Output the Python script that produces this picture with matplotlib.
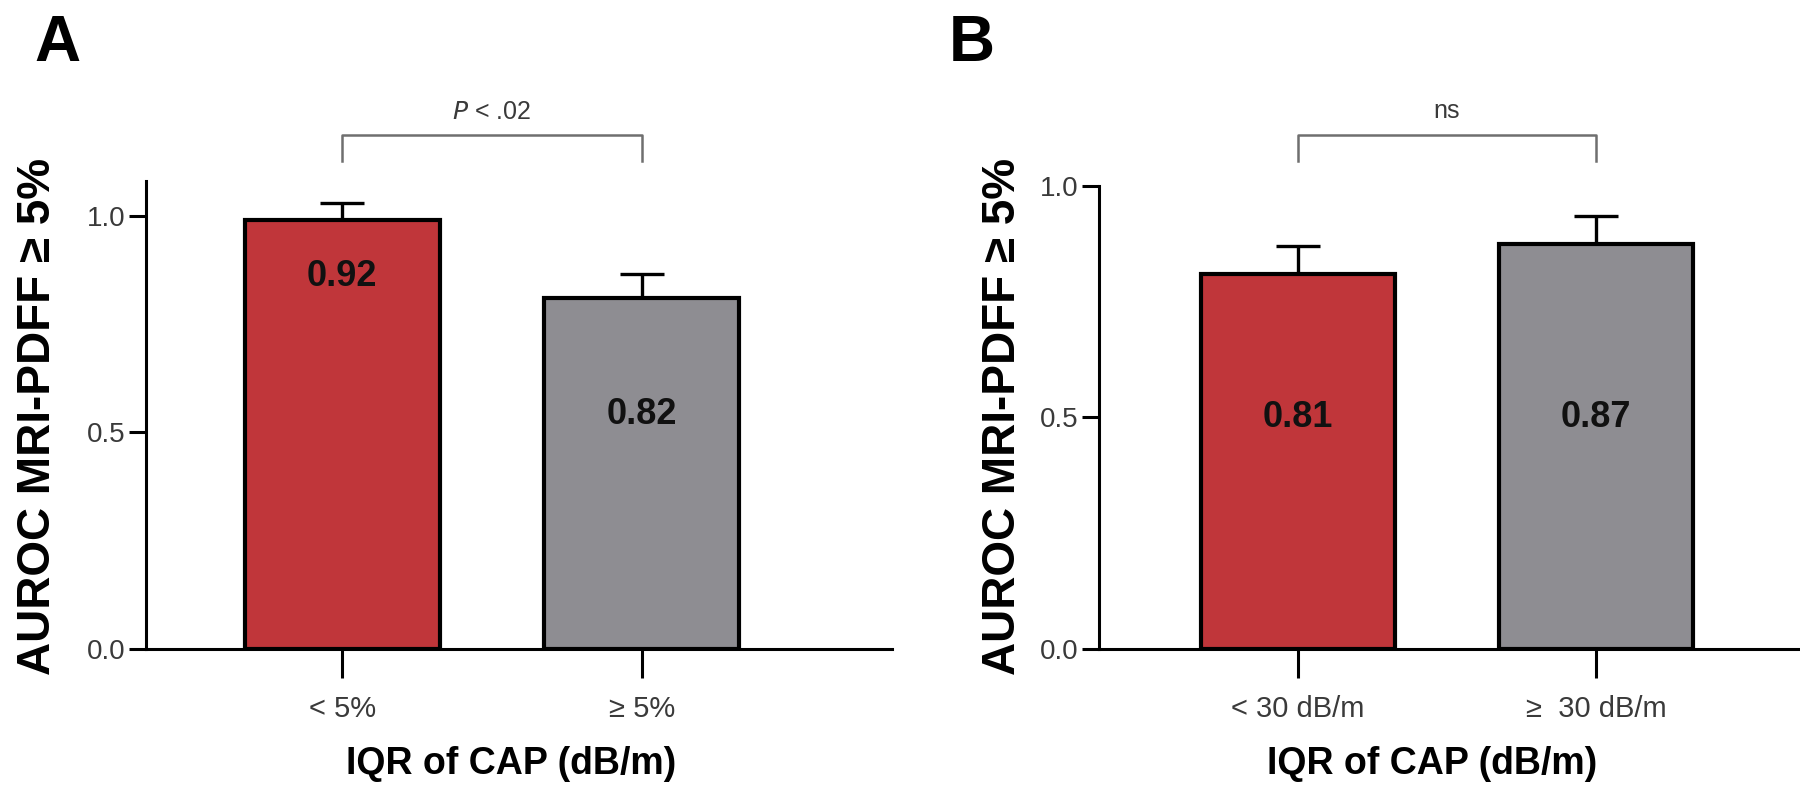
import matplotlib
matplotlib.use("Agg")
import matplotlib.pyplot as plt

plt.rcParams["font.family"] = ["Liberation Sans", "DejaVu Sans"]

# ---- data ----
cats_a = ["< 5%", "≥ 5%"]
bars_a = [0.99, 0.81]
err_a = [0.04, 0.055]
labels_a = ["0.92", "0.82"]
p_text_a = "P < .02"

cats_b = ["< 30 dB/m", "≥  30 dB/m"]
bars_b = [0.81, 0.875]
err_b = [0.06, 0.06]
labels_b = ["0.81", "0.87"]
p_text_b = "ns"

RED = "#C0363A"
GREY = "#8E8D92"
TXT = "#3a3a3a"

fig = plt.figure(figsize=(18, 7.88), dpi=100)
ax_a = fig.add_axes([0.0811, 0.1764, 0.4144, 0.660])
ax_b = fig.add_axes([0.6106, 0.1764, 0.3890, 0.7056])


def draw_panel(ax, cats, vals, errs, labels, label_y, ylim_top, spine_top,
               xlim, brk_y, brk_drop, p_text, p_y, ylab_xy, xlab_xy):
    x = list(range(len(vals)))
    ax.bar(x, vals, width=0.65, color=[RED, GREY], edgecolor="black",
           linewidth=3, zorder=2)
    ax.errorbar(x, vals, yerr=[[0] * len(errs), errs], fmt="none",
                ecolor="black", elinewidth=2.4, capsize=16, capthick=2.4,
                zorder=1)
    for xi, lab, ly in zip(x, labels, label_y):
        ax.text(xi, ly, lab, ha="center", va="center", fontsize=26,
                fontweight="bold", color="#111111", zorder=3)

    ax.set_xlim(*xlim)
    ax.set_ylim(0, ylim_top)
    ax.set_yticks([0, 0.5, 1.0])
    ax.set_yticklabels(["0.0", "0.5", "1.0"])
    ax.set_xticks(x)
    ax.set_xticklabels(cats)
    ax.tick_params(axis="y", length=12, width=2.2, labelsize=20,
                   labelcolor=TXT, pad=3)
    ax.tick_params(axis="x", length=21, width=2.2, labelsize=21,
                   labelcolor=TXT, pad=12)
    for s in ["top", "right"]:
        ax.spines[s].set_visible(False)
    for s in ["left", "bottom"]:
        ax.spines[s].set_linewidth(2.2)
    ax.spines["left"].set_bounds(0, spine_top)

    # significance bracket
    ax.plot([0, 0, 1, 1], [brk_drop, brk_y, brk_y, brk_drop], color="#6f6f6f",
            linewidth=1.8, clip_on=False)
    if p_text.startswith("P"):
        ax.text(0.5, p_y, r"$\it{P}$" + p_text[1:], ha="center", va="center",
                fontsize=18, color=TXT, clip_on=False)
    else:
        ax.text(0.5, p_y, p_text, ha="center", va="center", fontsize=18,
                color=TXT, clip_on=False)

    ax.set_ylabel("AUROC MRI-PDFF ≥ 5%", fontsize=33, fontweight="bold")
    ax.yaxis.set_label_coords(*ylab_xy)
    ax.set_xlabel("IQR of CAP (dB/m)", fontsize=27, fontweight="bold")
    ax.xaxis.set_label_coords(*xlab_xy)


draw_panel(ax_a, cats_a, bars_a, err_a, labels_a, [0.86, 0.54], 1.2, 1.08,
           (-0.655, 1.835), 1.187, 1.127, p_text_a, 1.24,
           (-0.115, 0.448), (0.49, -0.187))
draw_panel(ax_b, cats_b, bars_b, err_b, labels_b, [0.50, 0.50], 1.2, 1.0,
           (-0.665, 1.68), 1.11, 1.054, p_text_b, 1.162,
           (-0.106, 0.419), (0.475, -0.174))

fig.text(57 / 1800, 1 - 44 / 788, "A", fontsize=46, fontweight="bold",
         ha="center", va="center")
fig.text(972 / 1800, 1 - 44 / 788, "B", fontsize=46, fontweight="bold",
         ha="center", va="center")

fig.savefig("out.png", dpi=100, facecolor="white")
